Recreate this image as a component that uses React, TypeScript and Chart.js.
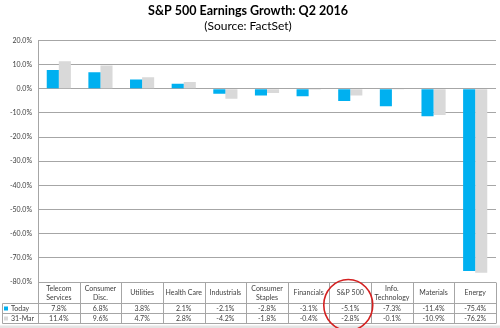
import React, { useEffect, useRef } from "react";
import { Chart, registerables } from "chart.js";

Chart.register(...registerables);

const categories: string[][] = [
  ["Telecom", "Services"],
  ["Consumer", "Disc."],
  ["Utilities"],
  ["Health Care"],
  ["Industrials"],
  ["Consumer", "Staples"],
  ["Financials"],
  ["S&P 500"],
  ["Info.", "Technology"],
  ["Materials"],
  ["Energy"],
];
const todayValues = [7.8, 6.8, 3.8, 2.1, -2.1, -2.8, -3.1, -5.1, -7.3, -11.4, -75.4];
const marchValues = [11.4, 9.6, 4.7, 2.8, -4.2, -1.8, -0.4, -2.8, -0.1, -10.9, -76.2];
const seriesNames = ["Today", "31-Mar"];
const seriesColors = ["#00b0f0", "#d9d9d9"];
const highlightCategory = "S&P 500";
const titleText = "S&P 500 Earnings Growth: Q2 2016";
const subtitleText = "(Source: FactSet)";

const FONT = "Lato, 'Open Sans', sans-serif";
const LINE = "#a6a6a6";
const TEXT = "#404040";

const tablePlugin = {
  id: "dataTable",
  afterDraw(chart: any) {
    const ctx = chart.ctx;
    const area = chart.chartArea;
    const n = categories.length;
    const w = (area.right - area.left) / n;
    const top = Math.round(area.bottom) + 0.5;
    const headBottom = top + 21;
    const row1Bottom = headBottom + 10;
    const row2Bottom = row1Bottom + 10;
    const legendLeft = 2.5;
    ctx.save();
    ctx.strokeStyle = LINE;
    ctx.lineWidth = 1;
    ctx.beginPath();
    // horizontal lines
    ctx.moveTo(area.left, top);
    ctx.lineTo(area.right, top);
    [headBottom, row1Bottom, row2Bottom].forEach((y) => {
      ctx.moveTo(legendLeft, y);
      ctx.lineTo(area.right, y);
    });
    // vertical lines
    for (let i = 0; i <= n; i++) {
      const x = Math.round(area.left + i * w) + 0.5;
      ctx.moveTo(x, top);
      ctx.lineTo(x, row2Bottom);
    }
    ctx.moveTo(legendLeft, headBottom);
    ctx.lineTo(legendLeft, row2Bottom);
    ctx.stroke();

    ctx.fillStyle = TEXT;
    ctx.font = "7px " + FONT;
    ctx.textAlign = "center";
    ctx.textBaseline = "middle";
    const headMid = (top + headBottom) / 2;
    const r1Mid = (headBottom + row1Bottom) / 2;
    const r2Mid = (row1Bottom + row2Bottom) / 2;
    let hx = 0;
    categories.forEach((lines, i) => {
      const cx = area.left + (i + 0.5) * w;
      if (lines.join(" ") === highlightCategory) hx = cx;
      const lh = 8.5;
      const startY = headMid - ((lines.length - 1) * lh) / 2;
      lines.forEach((l, j) => ctx.fillText(l, cx, startY + j * lh));
      ctx.fillText(todayValues[i].toFixed(1) + "%", cx, r1Mid);
      ctx.fillText(marchValues[i].toFixed(1) + "%", cx, r2Mid);
    });
    // legend column
    ctx.textAlign = "left";
    [r1Mid, r2Mid].forEach((y, k) => {
      ctx.fillStyle = seriesColors[k];
      ctx.fillRect(4, y - 2, 4, 4);
      ctx.fillStyle = TEXT;
      ctx.fillText(seriesNames[k], 11, y);
    });
    // bottom frame band
    ctx.fillStyle = "#e4e4e4";
    ctx.fillRect(0, row2Bottom + 2, chart.width, 3);
    // red circle
    ctx.strokeStyle = "#d42020";
    ctx.lineWidth = 1.6;
    ctx.beginPath();
    ctx.ellipse(hx - 2, (top + row2Bottom) / 2 + 2, 24.5, 25.5, 0, 0, Math.PI * 2);
    ctx.stroke();
    ctx.restore();
  },
};

export default function App() {
  const ref = useRef<HTMLCanvasElement>(null);
  useEffect(() => {
    if (!ref.current) return;
    const chart = new Chart(ref.current, {
      type: "bar",
      data: {
        labels: categories,
        datasets: [
          { label: seriesNames[0], data: todayValues, backgroundColor: seriesColors[0], borderWidth: 0 },
          { label: seriesNames[1], data: marchValues, backgroundColor: seriesColors[1], borderWidth: 0 },
        ],
      },
      options: {
        responsive: false,
        animation: false,
        devicePixelRatio: 1,
        layout: { padding: { top: 0, right: 4, bottom: 46, left: 0 } },
        datasets: { bar: { categoryPercentage: 0.58, barPercentage: 1 } } as any,
        scales: {
          x: { display: false },
          y: {
            min: -80,
            max: 20,
            afterFit: (s: any) => {
              s.width = 38;
            },
            ticks: {
              stepSize: 10,
              padding: 6,
              color: TEXT,
              font: { family: FONT, size: 7 },
              callback: (v: any) => Number(v).toFixed(1) + "%",
            },
            grid: { color: LINE, drawTicks: false, lineWidth: 1 },
            border: { display: true, color: LINE },
          },
        },
        plugins: {
          legend: { display: false },
          tooltip: { enabled: false },
          title: {
            display: true,
            text: titleText,
            color: "#000",
            font: { family: FONT, size: 12.5, weight: "bold" },
            padding: { top: 3, bottom: 1 },
          },
          subtitle: {
            display: true,
            text: subtitleText,
            color: "#000",
            font: { family: FONT, size: 12 },
            padding: { top: 0, bottom: 7 },
          },
        },
      },
      plugins: [tablePlugin],
    });
    return () => chart.destroy();
  }, []);
  return (
    <div style={{ position: "absolute", left: 0, top: 0, width: 500, height: 328, background: "#fff" }}>
      <canvas ref={ref} width={500} height={328} />
    </div>
  );
}
